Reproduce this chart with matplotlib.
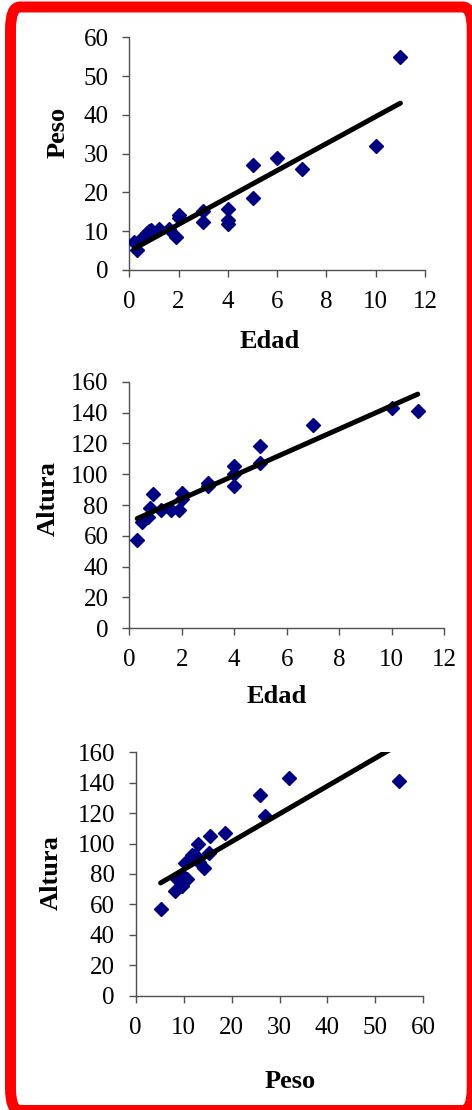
import numpy as np
import matplotlib
matplotlib.use("Agg")
import matplotlib.pyplot as plt
from matplotlib.patches import FancyBboxPatch

# age (years), weight (kg) and height (cm) per child; nan = not measured
edad = np.array([0.3, 0.2, 0.5, 0.7, 0.9, 0.8, 1.2, 1.6, 1.9, 2, 2,
                 3, 3, 4, 4, 4, 5, 5, 6, 7, 10, 11])
peso = np.array([5.2, 7.3, 8.2, 9.6, 10.3, 10.0, 10.5, 10.7, 8.6, 14.2, 13.3,
                 15.2, 12.3, 15.6, 12.9, 11.8, 27, 18.6, 29, 26, 32, 55])
altura = np.array([57, np.nan, 69, 72, 87, 78, 77, 77, 77, 84, 88,
                   94, 92.5, 105, 100, 92.5, 118, 107, np.nan, 132, 143, 141])

plt.rcParams["font.family"] = ["Liberation Serif", "DejaVu Serif"]

W, H = 472, 1110
fig = plt.figure(figsize=(W / 100, H / 100), dpi=100)

AX_COLOR = "#505050"
MARK_COLOR = "#000080"


def scatter_trend(rect, x, y, xlim, ylim, xticks, yticks, xlabel, ylabel,
                  xlab_pos, ylab_pos):
    ax = fig.add_axes(rect)
    ok = ~np.isnan(x) & ~np.isnan(y)
    x, y = x[ok], y[ok]
    ax.plot(x, y, linestyle="none", marker="D", ms=7.4, color=MARK_COLOR,
            mec=MARK_COLOR, zorder=3)
    # least squares trend line across the data range
    m, b = np.polyfit(x, y, 1)
    xs = np.array([x.min(), x.max()])
    ax.plot(xs, m * xs + b, color="black", lw=3.6, solid_capstyle="round",
            zorder=4)
    ax.set_xlim(*xlim)
    ax.set_ylim(*ylim)
    ax.set_xticks(xticks)
    ax.set_yticks(yticks)
    for s in ("top", "right"):
        ax.spines[s].set_visible(False)
    for s in ("left", "bottom"):
        ax.spines[s].set_color(AX_COLOR)
        ax.spines[s].set_linewidth(1.0)
    ax.tick_params(direction="out", length=5, width=1.0, color=AX_COLOR,
                   labelsize=18, pad=10)
    ax.set_xlabel(xlabel, fontsize=19, fontweight="bold")
    ax.set_ylabel(ylabel, fontsize=19, fontweight="bold")
    ax.xaxis.set_label_coords(*xlab_pos)
    ax.yaxis.set_label_coords(*ylab_pos)
    ax.patch.set_alpha(0)
    return ax


def px_rect(x0, y_top, x1, y_bot):
    return [x0 / W, 1 - y_bot / H, (x1 - x0) / W, (y_bot - y_top) / H]


scatter_trend(px_rect(129.3, 37.3, 425, 270), edad, peso,
              (0, 12), (0, 60), range(0, 13, 2), range(0, 61, 10),
              "Edad", "Peso", (0.476, -0.258), (-0.2005, 0.593))

scatter_trend(px_rect(129.3, 381.7, 444, 628.3), edad, altura,
              (0, 12), (0, 160), range(0, 13, 2), range(0, 161, 20),
              "Edad", "Altura", (0.468, -0.23), (-0.221, 0.528))

scatter_trend(px_rect(135.7, 752.3, 423.3, 995.7), peso, altura,
              (0, 60), (0, 160), range(0, 61, 10), range(0, 161, 20),
              "Peso", "Altura", (0.537, -0.305), (-0.255, 0.504))

# red frame round the whole sheet
frame = FancyBboxPatch((10.5 / W, -0.5 / H), (472.2 - 10.5) / W,
                       (1110.5 - 7) / H,
                       boxstyle="round,pad=0,rounding_size=0.02",
                       transform=fig.transFigure, facecolor="none",
                       edgecolor="#ff0000", lw=7.9, clip_on=False)
fig.patches.append(frame)

fig.savefig("out.png", dpi=100)
